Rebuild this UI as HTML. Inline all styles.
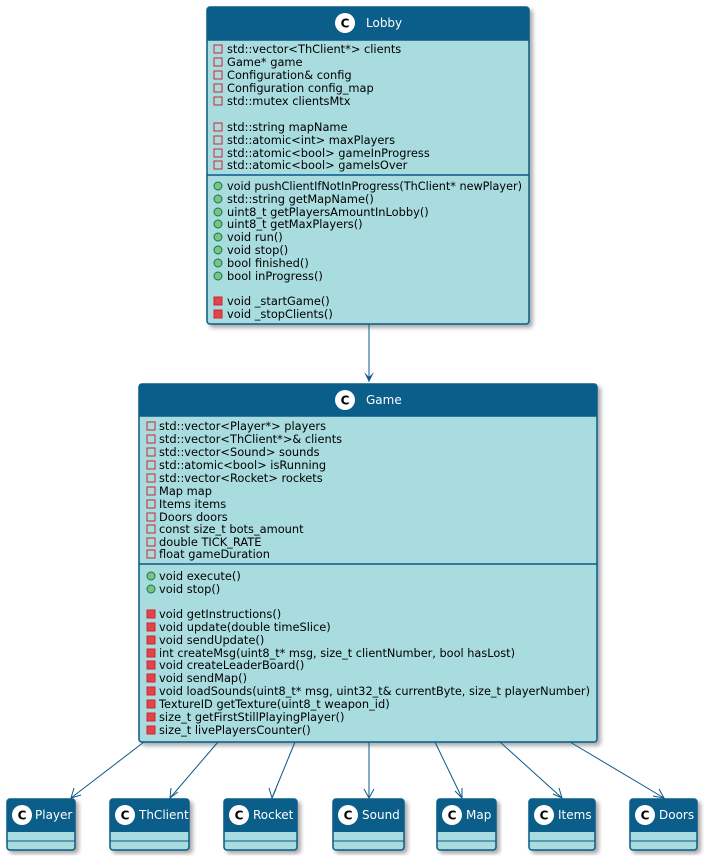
<!DOCTYPE html>
<html><head><meta charset="utf-8"><style>
html,body{margin:0;padding:0;background:#fff;width:712px;height:860px;overflow:hidden}
svg text{font-family:"DejaVu Sans","Liberation Sans",sans-serif;font-size:11.4px;fill:#000}
.h{fill:#fff;font-size:12px}
.c{font-weight:bold;font-size:12px;fill:#000}
</style></head><body>
<svg width="712" height="860" xmlns="http://www.w3.org/2000/svg">
<defs>
<filter id="sh" x="-5%" y="-5%" width="115%" height="115%"><feDropShadow dx="3" dy="3" stdDeviation="2" flood-color="#000" flood-opacity="0.35"/></filter>
<g id="pf"><rect x="-4" y="-4" width="8" height="8" fill="none" stroke="#C82930" stroke-width="1"/></g>
<g id="pm"><rect x="-4" y="-4" width="8" height="8" fill="#E5434B" stroke="#C82930" stroke-width="1"/></g>
<g id="pub"><circle r="4" fill="#84BE84" stroke="#038048" stroke-width="1"/></g>
</defs>

<g filter="url(#sh)">
<rect x="207" y="7" width="322" height="317" rx="3" fill="#A9DCDF" stroke="#0B5A87" stroke-width="1.5"/>
</g>
<path d="M207 40 V10 a3 3 0 0 1 3 -3 H526 a3 3 0 0 1 3 3 V40 Z" fill="#0B5D8A"/>
<line x1="207" y1="40" x2="529" y2="40" stroke="#0B5A87" stroke-width="1.5"/>
<line x1="207" y1="175" x2="529" y2="175" stroke="#0B5A87" stroke-width="1.5"/>
<circle cx="345" cy="23" r="10" fill="#fff"/><text x="345" y="27.5" text-anchor="middle" class="c">C</text>
<text x="366" y="27" class="h">Lobby</text>
<g>
<use href="#pf" x="218" y="49"/><text x="227" y="53">std::vector&lt;ThClient*&gt; clients</text>
<use href="#pf" x="218" y="62"/><text x="227" y="66">Game* game</text>
<use href="#pf" x="218" y="75"/><text x="227" y="79">Configuration&amp; config</text>
<use href="#pf" x="218" y="88"/><text x="227" y="92">Configuration config_map</text>
<use href="#pf" x="218" y="101"/><text x="227" y="105">std::mutex clientsMtx</text>
<use href="#pf" x="218" y="127"/><text x="227" y="131">std::string mapName</text>
<use href="#pf" x="218" y="140"/><text x="227" y="144">std::atomic&lt;int&gt; maxPlayers</text>
<use href="#pf" x="218" y="153"/><text x="227" y="157">std::atomic&lt;bool&gt; gameInProgress</text>
<use href="#pf" x="218" y="165"/><text x="227" y="169">std::atomic&lt;bool&gt; gameIsOver</text>
<use href="#pub" x="218" y="186"/><text x="227" y="190" textLength="295" lengthAdjust="spacingAndGlyphs">void pushClientIfNotInProgress(ThClient* newPlayer)</text>
<use href="#pub" x="218" y="199"/><text x="227" y="203">std::string getMapName()</text>
<use href="#pub" x="218" y="212"/><text x="227" y="216">uint8_t getPlayersAmountInLobby()</text>
<use href="#pub" x="218" y="224"/><text x="227" y="228">uint8_t getMaxPlayers()</text>
<use href="#pub" x="218" y="237"/><text x="227" y="241">void run()</text>
<use href="#pub" x="218" y="250"/><text x="227" y="254">void stop()</text>
<use href="#pub" x="218" y="263"/><text x="227" y="267">bool finished()</text>
<use href="#pub" x="218" y="276"/><text x="227" y="280">bool inProgress()</text>
<use href="#pm" x="218" y="301"/><text x="227" y="305">void _startGame()</text>
<use href="#pm" x="218" y="314"/><text x="227" y="318">void _stopClients()</text>
</g>

<line x1="369" y1="324" x2="369" y2="382" stroke="#0B5A87" stroke-width="1"/>
<path d="M364 372 L369 382 L374 372 L369 377 Z" fill="#0B5A87"/>

<g filter="url(#sh)">
<rect x="139" y="384" width="458" height="358" rx="3" fill="#A9DCDF" stroke="#0B5A87" stroke-width="1.5"/>
</g>
<path d="M139 416 V387 a3 3 0 0 1 3 -3 H594 a3 3 0 0 1 3 3 V416 Z" fill="#0B5D8A"/>
<line x1="139" y1="416" x2="597" y2="416" stroke="#0B5A87" stroke-width="1.5"/>
<line x1="139" y1="564" x2="597" y2="564" stroke="#0B5A87" stroke-width="1.5"/>
<circle cx="345" cy="400" r="10" fill="#fff"/><text x="345" y="404.5" text-anchor="middle" class="c">C</text>
<text x="366" y="404" class="h">Game</text>
<g>
<use href="#pf" x="151" y="426"/><text x="159" y="430">std::vector&lt;Player*&gt; players</text>
<use href="#pf" x="151" y="439"/><text x="159" y="443">std::vector&lt;ThClient*&gt;&amp; clients</text>
<use href="#pf" x="151" y="452"/><text x="159" y="456">std::vector&lt;Sound&gt; sounds</text>
<use href="#pf" x="151" y="465"/><text x="159" y="469">std::atomic&lt;bool&gt; isRunning</text>
<use href="#pf" x="151" y="478"/><text x="159" y="482">std::vector&lt;Rocket&gt; rockets</text>
<use href="#pf" x="151" y="491"/><text x="159" y="495">Map map</text>
<use href="#pf" x="151" y="504"/><text x="159" y="508">Items items</text>
<use href="#pf" x="151" y="517"/><text x="159" y="521">Doors doors</text>
<use href="#pf" x="151" y="529"/><text x="159" y="533">const size_t bots_amount</text>
<use href="#pf" x="151" y="542"/><text x="159" y="546">double TICK_RATE</text>
<use href="#pf" x="151" y="554"/><text x="159" y="558">float gameDuration</text>
<use href="#pub" x="151" y="576"/><text x="159" y="580">void execute()</text>
<use href="#pub" x="151" y="589"/><text x="159" y="593">void stop()</text>
<use href="#pm" x="151" y="614"/><text x="159" y="618">void getInstructions()</text>
<use href="#pm" x="151" y="627"/><text x="159" y="631">void update(double timeSlice)</text>
<use href="#pm" x="151" y="640"/><text x="159" y="644">void sendUpdate()</text>
<use href="#pm" x="151" y="653"/><text x="159" y="657" textLength="356" lengthAdjust="spacingAndGlyphs">int createMsg(uint8_t* msg, size_t clientNumber, bool hasLost)</text>
<use href="#pm" x="151" y="665"/><text x="159" y="669">void createLeaderBoard()</text>
<use href="#pm" x="151" y="678"/><text x="159" y="682">void sendMap()</text>
<use href="#pm" x="151" y="691"/><text x="159" y="695" textLength="431" lengthAdjust="spacingAndGlyphs">void loadSounds(uint8_t* msg, uint32_t&amp; currentByte, size_t playerNumber)</text>
<use href="#pm" x="151" y="704"/><text x="159" y="708">TextureID getTexture(uint8_t weapon_id)</text>
<use href="#pm" x="151" y="717"/><text x="159" y="721">size_t getFirstStillPlayingPlayer()</text>
<use href="#pm" x="151" y="730"/><text x="159" y="734">size_t livePlayersCounter()</text>
</g>

<g stroke="#0B5A87" stroke-width="1" fill="none">
<line x1="144" y1="742" x2="71" y2="798"/>
<line x1="218" y1="742" x2="170" y2="798"/>
<line x1="295" y1="742" x2="272" y2="798"/>
<line x1="369" y1="742" x2="369" y2="798"/>
<line x1="435" y1="742" x2="462" y2="798"/>
<line x1="500" y1="742" x2="562" y2="798"/>
<line x1="570" y1="742" x2="664" y2="798"/>
</g>
<g fill="none" stroke="#0B5A87" stroke-width="1">
<path d="M74 788 L71 798 L81 795"/>
<path d="M171 788 L170 798 L178 792"/>
<path d="M269 788 L272 798 L276 789"/>
<path d="M364 789 L369 798 L374 789"/>
<path d="M455 791 L462 798 L462 788"/>
<path d="M553 794 L562 798 L559 788"/>
<path d="M653 796 L664 798 L659 789"/>
</g>

<g>
<g filter="url(#sh)"><rect x="7" y="799" width="68" height="51" rx="3" fill="#A9DCDF" stroke="#0B5A87" stroke-width="1.5"/></g>
<path d="M7 832 V802 a3 3 0 0 1 3 -3 H72 a3 3 0 0 1 3 3 V832 Z" fill="#0B5D8A"/>
<line x1="7" y1="841" x2="75" y2="841" stroke="#0B5A87" stroke-width="1"/>
<circle cx="22" cy="815" r="10" fill="#fff"/><text x="22" y="819.5" text-anchor="middle" class="c">C</text>
<text x="35" y="819" class="h">Player</text>

<g filter="url(#sh)"><rect x="110" y="799" width="79" height="51" rx="3" fill="#A9DCDF" stroke="#0B5A87" stroke-width="1.5"/></g>
<path d="M110 832 V802 a3 3 0 0 1 3 -3 H186 a3 3 0 0 1 3 3 V832 Z" fill="#0B5D8A"/>
<line x1="110" y1="841" x2="189" y2="841" stroke="#0B5A87" stroke-width="1"/>
<circle cx="125" cy="815" r="10" fill="#fff"/><text x="125" y="819.5" text-anchor="middle" class="c">C</text>
<text x="139" y="819" class="h">ThClient</text>

<g filter="url(#sh)"><rect x="224" y="799" width="73" height="51" rx="3" fill="#A9DCDF" stroke="#0B5A87" stroke-width="1.5"/></g>
<path d="M224 832 V802 a3 3 0 0 1 3 -3 H294 a3 3 0 0 1 3 3 V832 Z" fill="#0B5D8A"/>
<line x1="224" y1="841" x2="297" y2="841" stroke="#0B5A87" stroke-width="1"/>
<circle cx="239" cy="815" r="10" fill="#fff"/><text x="239" y="819.5" text-anchor="middle" class="c">C</text>
<text x="253" y="819" class="h">Rocket</text>

<g filter="url(#sh)"><rect x="333" y="799" width="71" height="51" rx="3" fill="#A9DCDF" stroke="#0B5A87" stroke-width="1.5"/></g>
<path d="M333 832 V802 a3 3 0 0 1 3 -3 H401 a3 3 0 0 1 3 3 V832 Z" fill="#0B5D8A"/>
<line x1="333" y1="841" x2="404" y2="841" stroke="#0B5A87" stroke-width="1"/>
<circle cx="348" cy="815" r="10" fill="#fff"/><text x="348" y="819.5" text-anchor="middle" class="c">C</text>
<text x="362" y="819" class="h">Sound</text>

<g filter="url(#sh)"><rect x="437" y="799" width="59" height="51" rx="3" fill="#A9DCDF" stroke="#0B5A87" stroke-width="1.5"/></g>
<path d="M437 832 V802 a3 3 0 0 1 3 -3 H493 a3 3 0 0 1 3 3 V832 Z" fill="#0B5D8A"/>
<line x1="437" y1="841" x2="496" y2="841" stroke="#0B5A87" stroke-width="1"/>
<circle cx="452" cy="815" r="10" fill="#fff"/><text x="452" y="819.5" text-anchor="middle" class="c">C</text>
<text x="466" y="819" class="h">Map</text>

<g filter="url(#sh)"><rect x="529" y="799" width="66" height="51" rx="3" fill="#A9DCDF" stroke="#0B5A87" stroke-width="1.5"/></g>
<path d="M529 832 V802 a3 3 0 0 1 3 -3 H592 a3 3 0 0 1 3 3 V832 Z" fill="#0B5D8A"/>
<line x1="529" y1="841" x2="595" y2="841" stroke="#0B5A87" stroke-width="1"/>
<circle cx="544" cy="815" r="10" fill="#fff"/><text x="544" y="819.5" text-anchor="middle" class="c">C</text>
<text x="558" y="819" class="h">Items</text>

<g filter="url(#sh)"><rect x="630" y="799" width="67" height="51" rx="3" fill="#A9DCDF" stroke="#0B5A87" stroke-width="1.5"/></g>
<path d="M630 832 V802 a3 3 0 0 1 3 -3 H694 a3 3 0 0 1 3 3 V832 Z" fill="#0B5D8A"/>
<line x1="630" y1="841" x2="697" y2="841" stroke="#0B5A87" stroke-width="1"/>
<circle cx="645" cy="815" r="10" fill="#fff"/><text x="645" y="819.5" text-anchor="middle" class="c">C</text>
<text x="659" y="819" class="h">Doors</text>
</g>
</svg>
</body></html>
